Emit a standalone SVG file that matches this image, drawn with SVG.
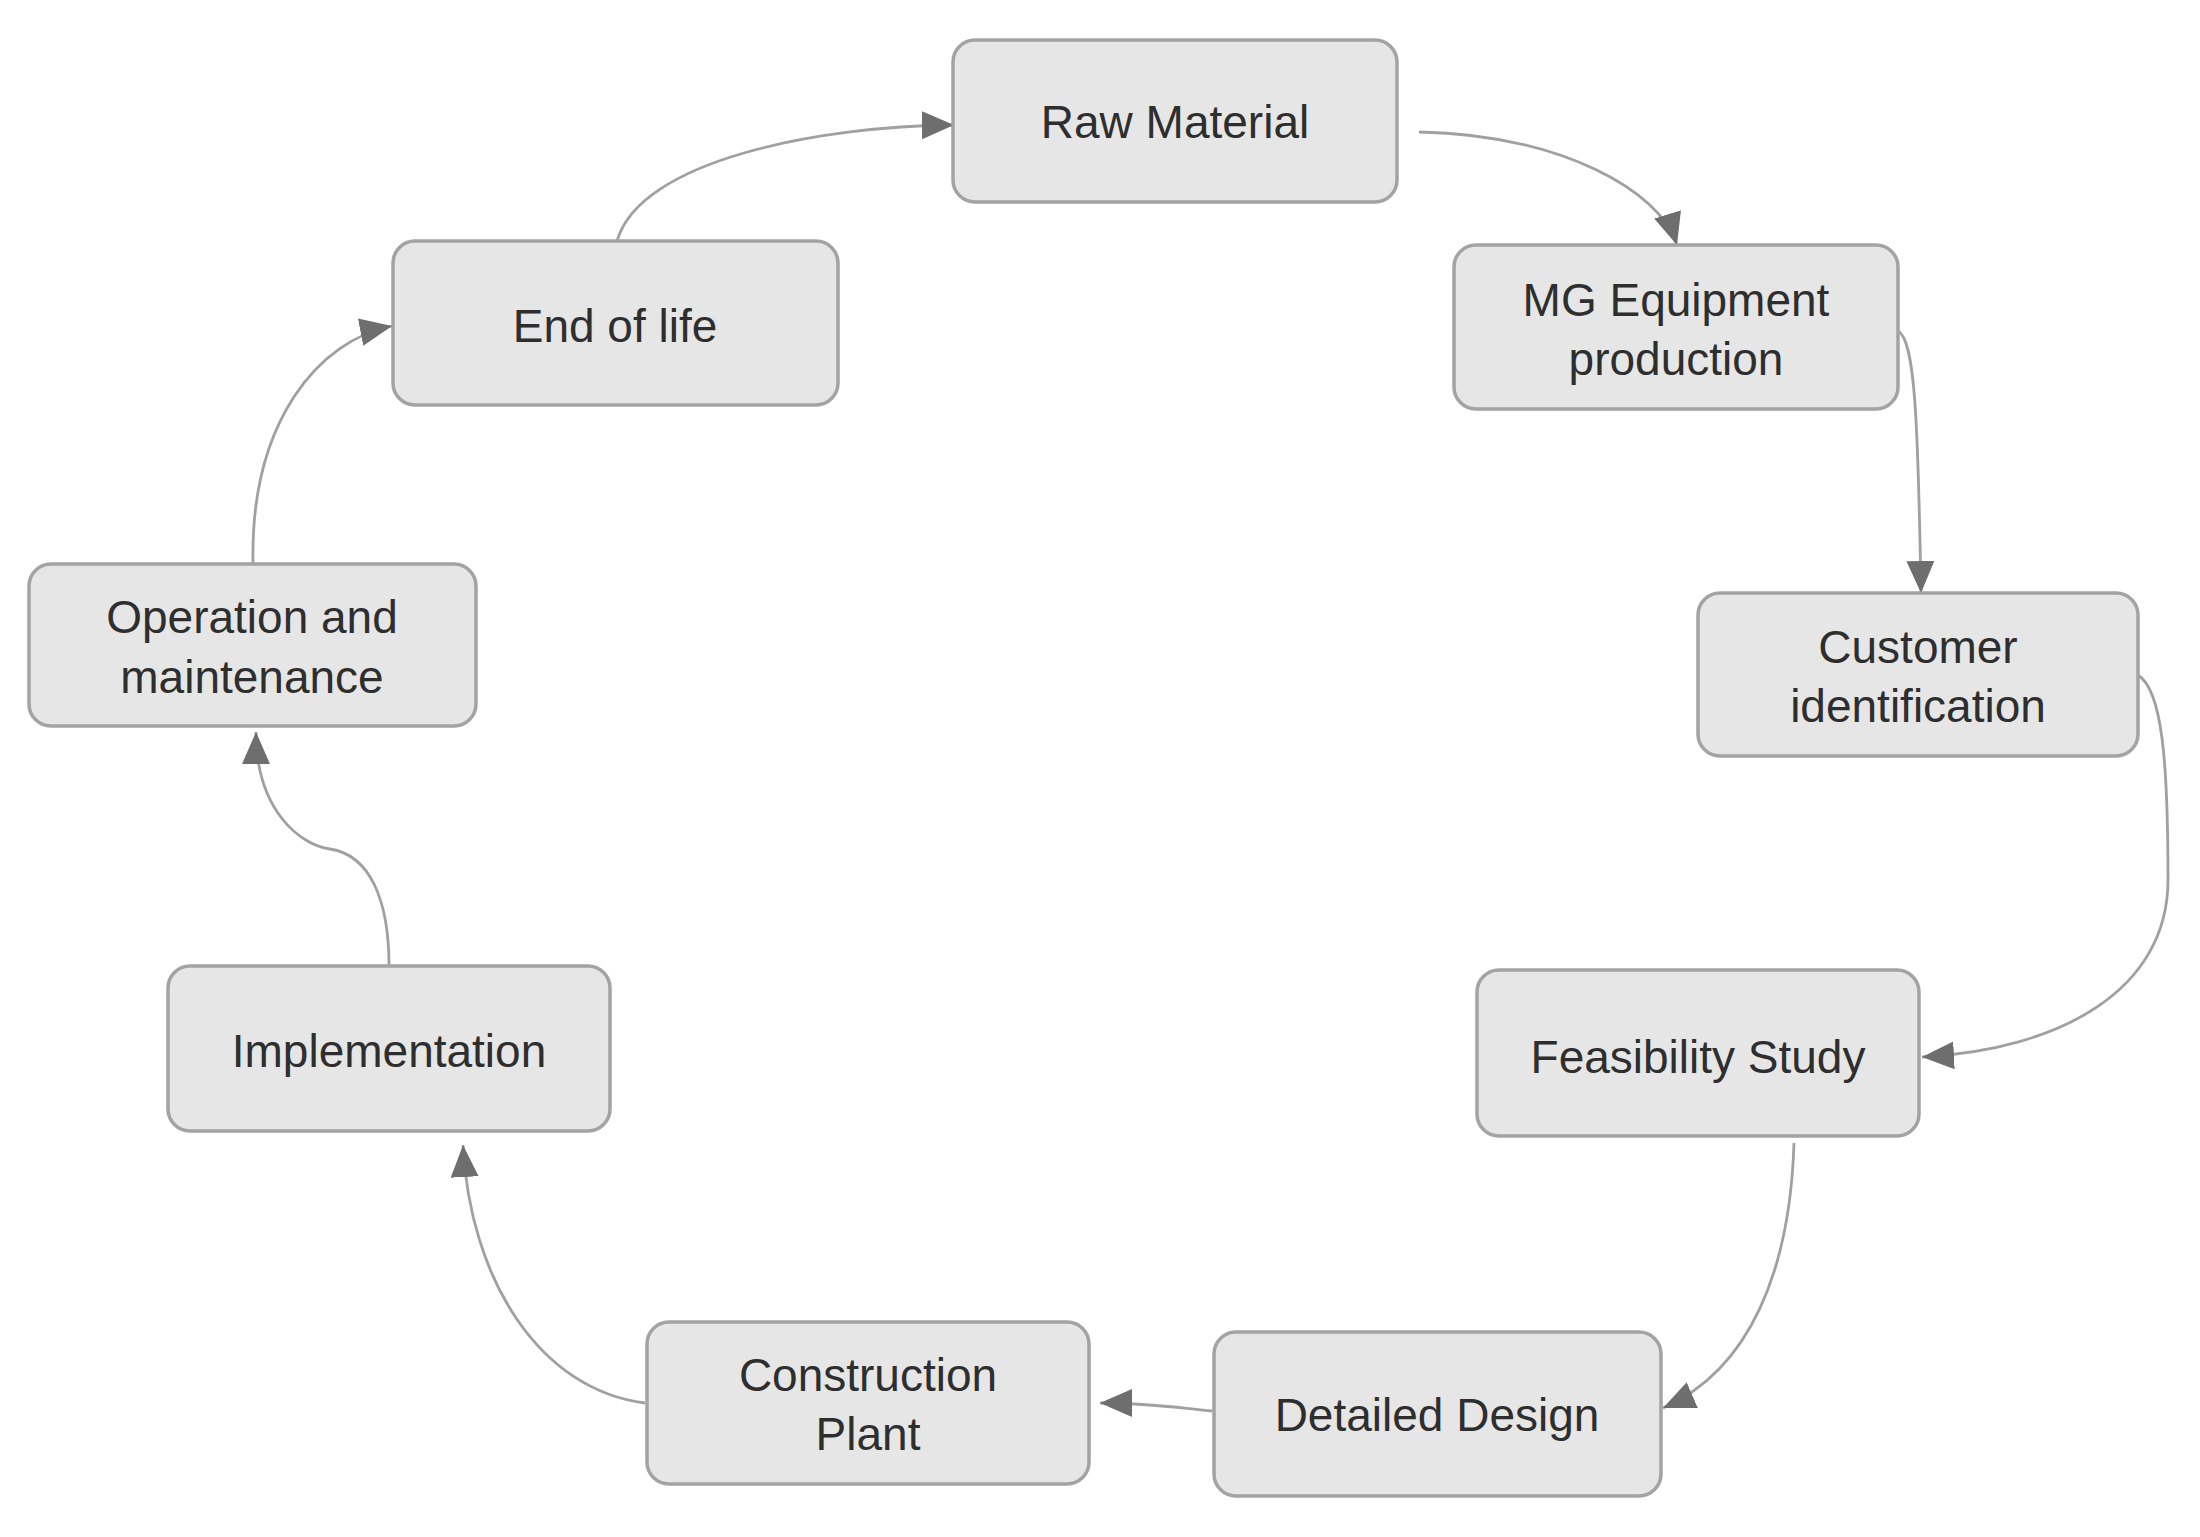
<svg xmlns="http://www.w3.org/2000/svg" width="2200" height="1537" viewBox="0 0 2200 1537">
<defs>
<style>
.box{fill:#e6e6e6;stroke:#a3a3a3;stroke-width:3.5}
.lbl{font-family:"Liberation Sans","Open Sans",Arial,sans-serif;font-size:46px;fill:#2e2e2e;text-anchor:middle}
.con{fill:none;stroke:#a0a0a0;stroke-width:2.8}
</style>
<marker id="arr" markerUnits="userSpaceOnUse" markerWidth="34" markerHeight="28" refX="32" refY="14" orient="auto">
<path d="M0,0 L32,14 L0,28 z" fill="#6e6e6e"/>
</marker>
</defs>
<rect width="2200" height="1537" fill="#ffffff"/>
<g id="connectors">
<path class="con" marker-end="url(#arr)" d="M617,241 C640,160 820,126 954,125"/>
<path class="con" marker-end="url(#arr)" d="M1419,132 C1560,135 1660,190 1677,245"/>
<path class="con" marker-end="url(#arr)" d="M1898,331 C1915,340 1918,420 1921,593"/>
<path class="con" marker-end="url(#arr)" d="M2138,675 C2162,690 2168,760 2168,880 C2168,990 2060,1050 1922,1057"/>
<path class="con" marker-end="url(#arr)" d="M1794,1143 C1790,1270 1750,1370 1663,1408"/>
<path class="con" marker-end="url(#arr)" d="M1212,1411 C1180,1408 1150,1403 1100,1403"/>
<path class="con" marker-end="url(#arr)" d="M645,1403 C540,1390 470,1280 463,1145"/>
<path class="con" marker-end="url(#arr)" d="M389,966 C389,900 370,855 330,849 C300,845 256,810 256,732"/>
<path class="con" marker-end="url(#arr)" d="M253,564 C250,420 320,340 392,326"/>
</g>
<g id="raw-material">
<rect class="box" x="953" y="40" width="444" height="162" rx="22"/>
<text class="lbl" x="1175" y="138">Raw Material</text>
</g>
<g id="mg-equipment">
<rect class="box" x="1454" y="245" width="444" height="164" rx="22"/>
<text class="lbl" x="1676" y="316">MG Equipment</text>
<text class="lbl" x="1676" y="375">production</text>
</g>
<g id="customer-identification">
<rect class="box" x="1698" y="593" width="440" height="163" rx="22"/>
<text class="lbl" x="1918" y="663">Customer</text>
<text class="lbl" x="1918" y="722">identification</text>
</g>
<g id="feasibility-study">
<rect class="box" x="1477" y="970" width="442" height="166" rx="22"/>
<text class="lbl" x="1698" y="1073">Feasibility Study</text>
</g>
<g id="detailed-design">
<rect class="box" x="1214" y="1332" width="447" height="164" rx="22"/>
<text class="lbl" x="1437" y="1431">Detailed Design</text>
</g>
<g id="construction-plant">
<rect class="box" x="647" y="1322" width="442" height="162" rx="22"/>
<text class="lbl" x="868" y="1391">Construction</text>
<text class="lbl" x="868" y="1450">Plant</text>
</g>
<g id="implementation">
<rect class="box" x="168" y="966" width="442" height="165" rx="22"/>
<text class="lbl" x="389" y="1067">Implementation</text>
</g>
<g id="operation-maintenance">
<rect class="box" x="29" y="564" width="447" height="162" rx="22"/>
<text class="lbl" x="252" y="633">Operation and</text>
<text class="lbl" x="252" y="693">maintenance</text>
</g>
<g id="end-of-life">
<rect class="box" x="393" y="241" width="445" height="164" rx="22"/>
<text class="lbl" x="615" y="342">End of life</text>
</g>
</svg>
